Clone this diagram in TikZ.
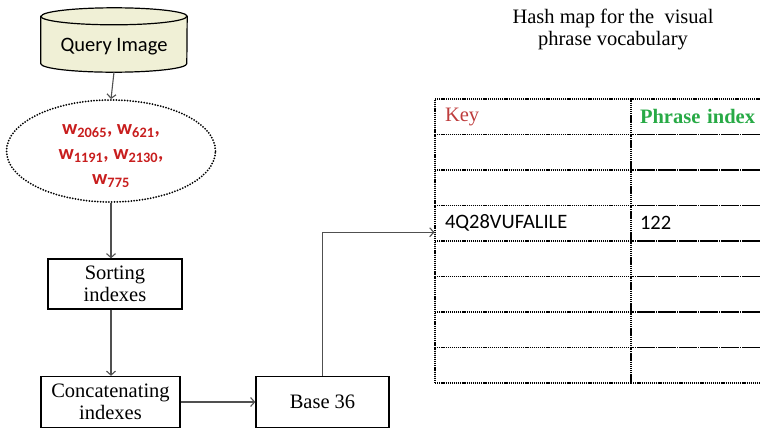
\documentclass[tikz,border=0pt]{standalone}
\usepackage{fontspec}
\setmainfont{Liberation Serif}
\newfontfamily\calibri{Carlito}
\usetikzlibrary{shapes.geometric,arrows.meta}
\definecolor{wordred}{RGB}{200,30,30}
\definecolor{keyred}{RGB}{190,60,60}
\definecolor{idxgreen}{RGB}{40,170,70}
\definecolor{dbfill}{RGB}{240,240,214}
\definecolor{arrowgray}{RGB}{80,80,80}
\begin{document}
\begin{tikzpicture}[x=1pt,y=-1pt,
proc box/.style={rectangle,draw,line width=1.4pt,align=center,inner sep=0pt,font=\fontsize{20.5}{22}\selectfont},
key cell/.style={rectangle,draw,dash pattern=on 1.2pt off 0.9pt,line width=1.1pt,minimum height=35.5pt,text width=176pt,inner xsep=10pt,inner ysep=0pt,align=left,font=\fontsize{20.5}{22}\selectfont},
val cell/.style={key cell,text width=122pt,inner xsep=9pt},
flow/.style={-{Straight Barb[length=4pt,width=9pt]},draw=arrowgray,line width=1.1pt}]
\useasboundingbox (0,0) rectangle (760,429);
\clip (0,0) rectangle (760,429);
\begin{scope}
\node[minimum width=146pt,minimum height=64pt,inner sep=0pt] (query) at (114,40) {};%db
\draw[line width=1.2pt,fill=dbfill] ([yshift=-8.5pt]query.north west) -- ([yshift=8.5pt]query.south west) arc[start angle=180,end angle=360,x radius=73pt,y radius=8.5pt] -- ([yshift=-8.5pt]query.north east) arc[start angle=0,end angle=180,x radius=73pt,y radius=8.5pt] -- cycle;
\draw[line width=1.2pt] ([yshift=-8.5pt]query.north west) arc[start angle=180,end angle=360,x radius=73pt,y radius=8.5pt];
\node[font=\calibri\fontsize{20.5}{22}\selectfont] (qtext) at (114,47) {Query Image};
\node[ellipse,draw,dash pattern=on 0pt off 2.8pt,line cap=round,line width=2pt,minimum width=209pt,minimum height=102pt] (words) at (111,151) {};%words
\node[align=center,text=wordred,font=\calibri\bfseries\fontsize{20.5}{25}\selectfont] (wtext) at (111,156) {w\textsubscript{2065}, w\textsubscript{621},\\w\textsubscript{1191}, w\textsubscript{2130},\\w\textsubscript{775}};
\node[proc box,minimum width=134pt,minimum height=50pt] (sort) at (115,284) {Sorting\\indexes};
\node[proc box,minimum width=139pt,minimum height=51pt] (concat) at (110.5,402) {Concatenating\\indexes};
\node[proc box,minimum width=133pt,minimum height=51pt] (base) at (322.5,402) {Base 36};
\node[align=center,font=\fontsize{20.5}{22}\selectfont] (title) at (613,29) {Hash map for the\ \ visual\\phrase vocabulary};
\end{scope}
% hash map
\node[key cell,text=keyred] (key1) at (533,116.75) {Key};
\node[val cell,text=idxgreen,font=\bfseries\fontsize{20.5}{22}\selectfont] (val1) at (701,116.75) {Phrase index};
\node[key cell] (key2) at (533,152.25) {};
\node[val cell] (val2) at (701,152.25) {};
\node[key cell] (key3) at (533,187.75) {};
\node[val cell] (val3) at (701,187.75) {};
\node[key cell,font=\calibri\fontsize{20.5}{22}\selectfont] (key4) at (533,223.25) {4Q28VUFALILE};
\node[val cell,font=\calibri\fontsize{20.5}{22}\selectfont] (val4) at (701,223.25) {122};
\node[key cell] (key5) at (533,258.75) {};
\node[val cell] (val5) at (701,258.75) {};
\node[key cell] (key6) at (533,294.25) {};
\node[val cell] (val6) at (701,294.25) {};
\node[key cell] (key7) at (533,329.75) {};
\node[val cell] (val7) at (701,329.75) {};
\node[key cell] (key8) at (533,365.25) {};
\node[val cell] (val8) at (701,365.25) {};
\begin{scope}
\draw[flow] (query.south) -- (words.north);
\draw[flow] (words.south) -- (words.south |- sort.north);
\draw[flow] (sort.south -| words.south) -- (words.south |- concat.north);
\draw[flow] (concat.east) -- (base.west);
\draw[flow] (base.north) |- ([yshift=-9pt]key4.west);
\end{scope}
\end{tikzpicture}
\end{document}
